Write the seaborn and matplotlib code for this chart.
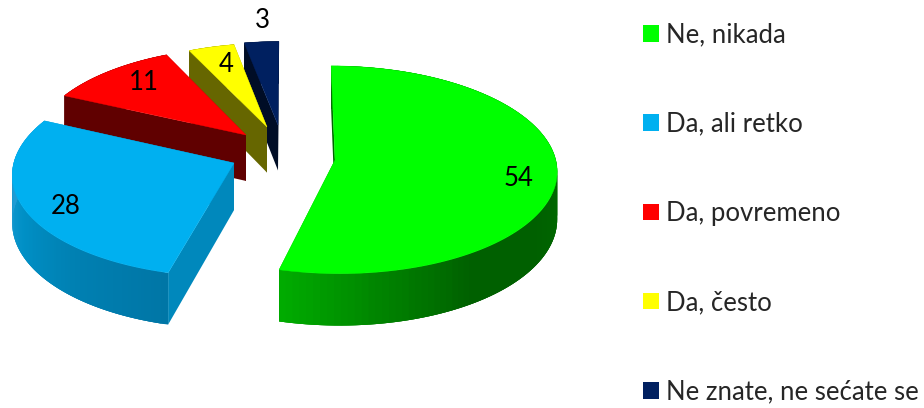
import numpy as np
import pandas as pd
import seaborn as sns
import matplotlib.pyplot as plt
from matplotlib.colors import LinearSegmentedColormap
from matplotlib.patches import Patch

categories = ["Ne, nikada", "Da, ali retko", "Da, povremeno", "Da, često", "Ne znate, ne sećate se"]
values = [54, 28, 11, 4, 3]

top_colors = ["#00FF00", "#00B0F0", "#FF0000", "#FFFF00", "#002060"]
wall_colors = ["#006600", "#0088BC", "#600000", "#666600", "#000D26"]
# outer wall shading, from the end of the slice back to its start
shade_stops = [
    ["#00AE00", "#008400", "#006000", "#006000", "#006800", "#006E00", "#006E00", "#006E00", "#006E00"],
    ["#1C9CD6", "#209CD4", "#0090C6", "#0080B2", "#0076A6"],
    ["#600000", "#600000"],
    ["#666600", "#666600"],
    ["#000D26", "#000D26"],
]

# where each slice's point sits on the picture (the explosion) and its radius
tips = [(335, 160), (234, 163), (246, 135), (267, 127), (278, 125)]
radii = [0.99, 0.985, 0.965, 0.93, 0.93]
label_pos = [(519, 178), (66, 206), (144, 83), (226, 64), (262, 20)]

# camera
vx, vy = 290, 160
R, Ra, k = 223, 104, 0.095
depth = 47


def to_px(u, v):
    w = 1 + k * v
    return vx + R * u / w, vy - Ra * v / w


def from_px(px, py):
    q = (vy - py) / Ra
    v = q / (1 - k * q)
    return (px - vx) * (1 + k * v) / R, v


sns.set_theme(style="white")
plt.rcParams["font.family"] = ["Lato", "DejaVu Sans"]
palette = sns.color_palette(top_colors)

df = pd.DataFrame({"category": categories, "value": values})
df["start"] = df["value"].cumsum().shift(fill_value=0) / df["value"].sum() * 2 * np.pi
df["end"] = df["value"].cumsum() / df["value"].sum() * 2 * np.pi

fig, ax = plt.subplots(figsize=(9.24, 4.08), dpi=100)
fig.subplots_adjust(0, 0, 1, 1)

# back slices first, the big front ones go over them
for i in [4, 3, 2, 1, 0]:
    row = df.iloc[i]
    u0, v0 = from_px(*tips[i])
    t = np.linspace(row["start"], row["end"], 120)
    arc_u = u0 + radii[i] * np.sin(t)
    arc_v = v0 + radii[i] * np.cos(t)
    x, y = to_px(arc_u, arc_v)
    w = 1 + k * arc_v
    yb = y + depth / w
    tx, ty = tips[i]
    tyb = ty + depth / (1 + k * v0)
    z = i * -3 + 20

    # the two cut faces
    ax.fill([tx, x[0], x[0], tx], [ty, y[0], yb[0], tyb], color=wall_colors[i], lw=0, zorder=z)
    ax.fill([tx, x[-1], x[-1], tx], [ty, y[-1], yb[-1], tyb], color=wall_colors[i], lw=0, zorder=z)

    # outer wall in small strips so it can be shaded, each one overlaps the next
    cmap = LinearSegmentedColormap.from_list("wall", shade_stops[i])
    for j in range(len(t) - 1):
        f = (t[-1] - t[j]) / (t[-1] - t[0])
        e = min(j + 3, len(t) - 1)
        ax.fill(np.r_[x[j:e + 1], x[j:e + 1][::-1]], np.r_[y[j:e + 1], yb[j:e + 1][::-1]],
                color=cmap(f), lw=0, zorder=z + 1)

    ax.fill(np.r_[tx, x], np.r_[ty, y], color=palette[i], lw=0.3, zorder=z + 2)

for val, (lx, ly) in zip(values, label_pos):
    ax.text(lx, ly, str(val), fontsize=18.5, color="black", ha="center", va="center", zorder=40)

handles = [Patch(facecolor=c, edgecolor="none", label=n) for c, n in zip(palette, categories)]
ax.legend(handles=handles, loc="upper left", bbox_to_anchor=(0.696, 0.945), frameon=False,
          fontsize=18.5, labelspacing=2.5, handlelength=0.62, handleheight=0.62,
          handletextpad=0.27, borderpad=0, borderaxespad=0)

ax.set_xlim(0, 924)
ax.set_ylim(408, 0)
ax.axis("off")

plt.savefig("out.png", dpi=100)
